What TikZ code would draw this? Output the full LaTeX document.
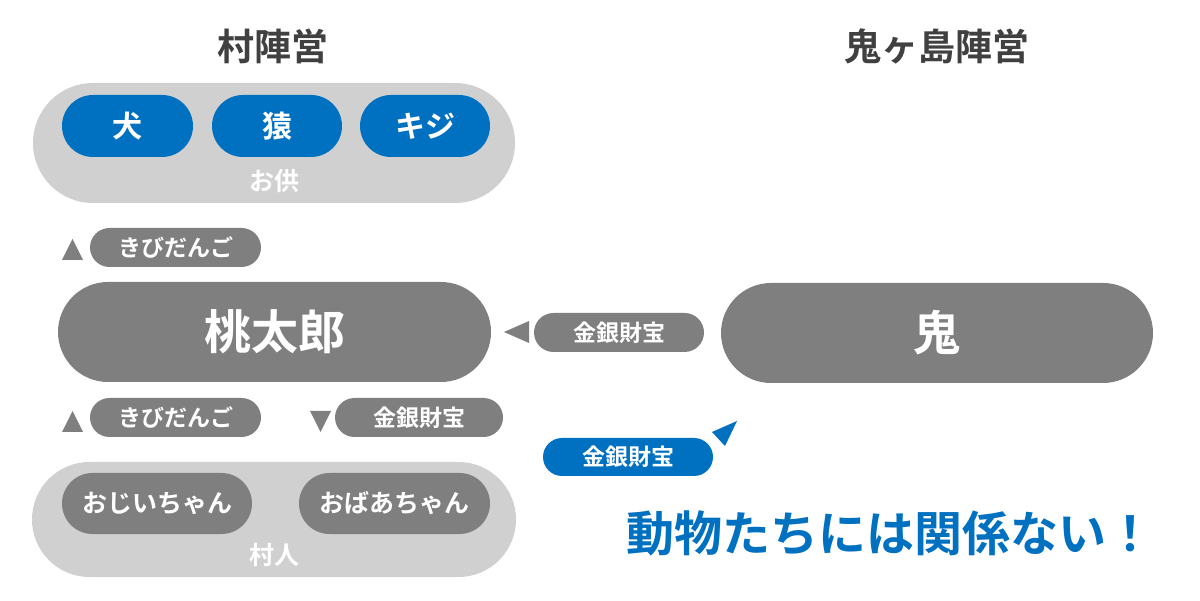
\documentclass[tikz,border=0pt]{standalone}
\usepackage{fontspec}
\setmainfont{Noto Sans CJK JP}[BoldFont={Noto Sans CJK JP Bold}]
\definecolor{jblue}{HTML}{0070C0}
\definecolor{dgray}{HTML}{7F7F7F}
\definecolor{lgray}{HTML}{D0D0D0}
\definecolor{headc}{HTML}{404040}
\tikzset{
  pill/.style args={#1/#2}{rectangle, rounded corners=#2/2, minimum width=#1, minimum height=#2, inner sep=0pt, text=white, font=\bfseries},
  graypill/.style={fill=dgray},
  bluepill/.style={fill=jblue},
  group/.style={fill=lgray},
  tri/.style={fill=dgray},
}
\begin{document}
\begin{tikzpicture}[x=1pt,y=-1pt]
\useasboundingbox (0,0) rectangle (1200,601);
% headings
\node[font=\fontsize{37}{44}\selectfont\bfseries, text=headc] (hv) at (273,46) {村陣営};
\node[font=\fontsize{37}{44}\selectfont\bfseries, text=headc] (ho) at (937,46) {鬼ヶ島陣営};
% top group
\node[group, pill=482pt/120pt] (otomo) at (274,143) {};
\node[bluepill, pill=131pt/62pt, font=\fontsize{30}{36}\selectfont\bfseries] (inu) at (127.5,126) {犬};
\node[bluepill, pill=130pt/62pt, font=\fontsize{30}{36}\selectfont\bfseries] (saru) at (277,126) {猿};
\node[bluepill, pill=130pt/62pt, font=\fontsize{30}{36}\selectfont\bfseries] (kiji) at (425,126) {キジ};
\node[text=white, font=\fontsize{25}{30}\selectfont\bfseries] (otomol) at (274,181) {お供};
% kibidango upper
\fill[tri] (62,260) -- (83,260) -- (72.5,239) -- cycle;
\node[graypill, pill=171pt/39pt, font=\fontsize{23}{28}\selectfont\bfseries] (kibi1) at (175.5,247.5) {きびだんご};
% momotaro
\node[graypill, pill=433pt/100pt, font=\fontsize{47}{56}\selectfont\bfseries] (momo) at (274.5,332) {桃太郎};
% treasure from oni
\fill[tri] (504,332) -- (529,321) -- (529,343) -- cycle;
\node[graypill, pill=170pt/39pt, font=\fontsize{23}{28}\selectfont\bfseries] (kin1) at (619,332.5) {金銀財宝};
% oni
\node[graypill, pill=432pt/100pt, font=\fontsize{47}{56}\selectfont\bfseries] (oni) at (937,333) {鬼};
% lower labels
\fill[tri] (62,432) -- (83,432) -- (72.5,411) -- cycle;
\node[graypill, pill=171pt/39pt, font=\fontsize{23}{28}\selectfont\bfseries] (kibi2) at (175.5,417.5) {きびだんご};
\fill[tri] (310,411) -- (331,411) -- (320.5,432) -- cycle;
\node[graypill, pill=168pt/39pt, font=\fontsize{23}{28}\selectfont\bfseries] (kin2) at (419,417.5) {金銀財宝};
% blue treasure
\node[bluepill, pill=170pt/38pt, font=\fontsize{23}{28}\selectfont\bfseries] (kin3) at (628,457) {金銀財宝};
\fill[jblue] (712,432) -- (737,421) -- (725,446) -- cycle;
% villagers group
\node[group, pill=484pt/115pt] (murabito) at (274,519.5) {};
\node[graypill, pill=190pt/61pt, font=\fontsize{25}{30}\selectfont\bfseries] (ojii) at (157,503.5) {おじいちゃん};
\node[graypill, pill=191pt/61pt, font=\fontsize{25}{30}\selectfont\bfseries] (obaa) at (394.5,503.5) {おばあちゃん};
\node[text=white, font=\fontsize{25}{30}\selectfont\bfseries] (murabitol) at (274,555) {村人};
% slogan
\node[text=jblue, font=\fontsize{48}{56}\selectfont\bfseries] (slogan) at (890,533) {動物たちには関係ない！};
\end{tikzpicture}
\end{document}
